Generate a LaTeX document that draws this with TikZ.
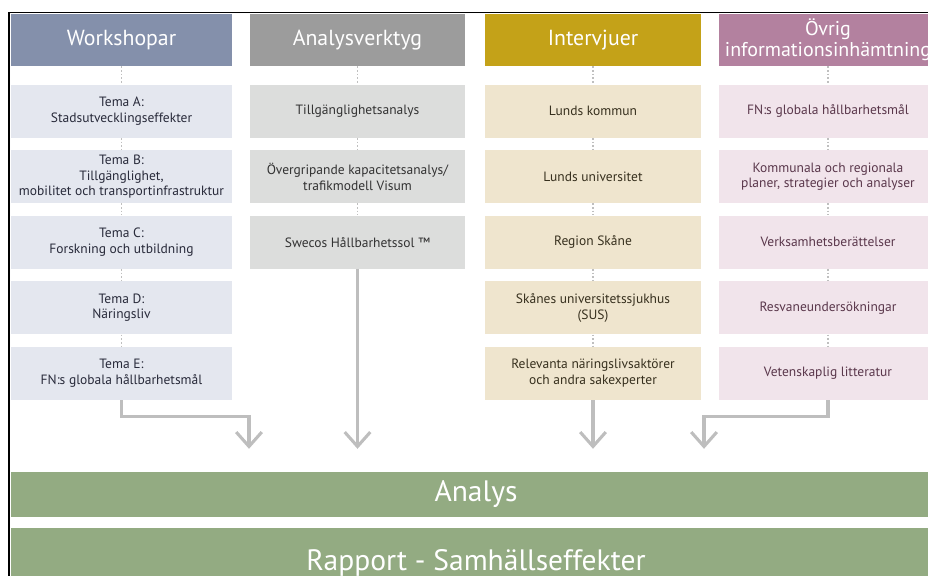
\documentclass[tikz,border=0pt]{standalone}
\usepackage{fontspec}
\setmainfont{PT Sans}
\usetikzlibrary{positioning}
\usetikzlibrary{arrows.meta}

\definecolor{wshead}{RGB}{132,144,171}
\definecolor{wsfill}{RGB}{228,231,239}
\definecolor{wstext}{RGB}{40,42,58}
\definecolor{avhead}{RGB}{156,156,156}
\definecolor{avfill}{RGB}{220,221,220}
\definecolor{avtext}{RGB}{50,50,50}
\definecolor{ivhead}{RGB}{196,162,24}
\definecolor{ivfill}{RGB}{239,229,206}
\definecolor{ivtext}{RGB}{55,48,30}
\definecolor{ovhead}{RGB}{179,129,159}
\definecolor{ovfill}{RGB}{241,228,235}
\definecolor{ovtext}{RGB}{90,55,75}
\definecolor{bargreen}{RGB}{147,171,130}
\definecolor{arrowgray}{RGB}{190,190,190}

\tikzset{
    node distance=0.3cm,
    headcell/.style={
        minimum height=1.3cm,
        inner sep=0pt,
        align=center,
        text=white,
        font=\fontsize{15.5}{18}\selectfont
    },
    cell/.style={
        minimum height=1.325cm,
        inner sep=0pt,
        align=center,
        font=\fontsize{9.6}{11.2}\selectfont
    },
    wscell/.style={cell, fill=wsfill, text=wstext, minimum width=5.525cm},
    avcell/.style={cell, fill=avfill, text=avtext, minimum width=5.375cm},
    ivcell/.style={cell, fill=ivfill, text=ivtext, minimum width=5.4cm},
    ovcell/.style={cell, fill=ovfill, text=ovtext, minimum width=5.45cm},
    linkdots/.style={
        draw=gray!50,
        line width=1.2pt,
        dash pattern=on 1.2pt off 1.4pt
    },
    flow/.style={
        draw=arrowgray,
        line width=2.2pt,
        -{Straight Barb[length=0.36cm,width=0.64cm]}
    },
    bar/.style={
        fill=bargreen,
        text=white,
        inner sep=0pt,
        minimum width=23.25cm,
        font=\fontsize{21}{24}\selectfont
    }
}

\begin{document}
\begin{tikzpicture}
    \useasboundingbox (0,0) rectangle (23.2,-14.4);

    % column headers
    \node[headcell, fill=wshead, minimum width=5.525cm] (ws) at (3.0375,-1.0) {Workshopar};
    \node[headcell, fill=avhead, minimum width=5.375cm] (av) at (8.9375,-1.0) {Analysverktyg};
    \node[headcell, fill=ivhead, minimum width=5.4cm] (iv) at (14.825,-1.0) {Intervjuer};
    \node[headcell, fill=ovhead, minimum width=5.45cm, font=\fontsize{14.2}{17}\selectfont] (ov) at (20.7,-1.0) {Övrig\\[-2pt]informationsinhämtning};

    % Workshopar
    \node[wscell, below=0.45cm of ws] (ws1) {Tema A:\\Stadsutvecklingseffekter};
    \node[wscell, below=of ws1] (ws2) {Tema B:\\Tillgänglighet,\\mobilitet och transportinfrastruktur};
    \node[wscell, below=of ws2] (ws3) {Tema C:\\Forskning och utbildning};
    \node[wscell, below=of ws3] (ws4) {Tema D:\\Näringsliv};
    \node[wscell, below=of ws4] (ws5) {Tema E:\\FN:s globala hållbarhetsmål};

    % Analysverktyg
    \node[avcell, below=0.45cm of av] (av1) {Tillgänglighetsanalys};
    \node[avcell, below=of av1] (av2) {Övergripande kapacitetsanalys/\\trafikmodell Visum};
    \node[avcell, below=of av2] (av3) {Swecos Hållbarhetssol ™};

    % Intervjuer
    \node[ivcell, below=0.45cm of iv] (iv1) {Lunds kommun};
    \node[ivcell, below=of iv1] (iv2) {Lunds universitet};
    \node[ivcell, below=of iv2] (iv3) {Region Skåne};
    \node[ivcell, below=of iv3] (iv4) {Skånes universitetssjukhus\\(SUS)};
    \node[ivcell, below=of iv4] (iv5) {Relevanta näringslivsaktörer\\och andra sakexperter};

    % Övrig informationsinhämtning
    \node[ovcell, below=0.45cm of ov] (ov1) {FN:s globala hållbarhetsmål};
    \node[ovcell, below=of ov1] (ov2) {Kommunala och regionala\\planer, strategier och analyser};
    \node[ovcell, below=of ov2] (ov3) {Verksamhetsberättelser};
    \node[ovcell, below=of ov3] (ov4) {Resvaneundersökningar};
    \node[ovcell, below=of ov4] (ov5) {Vetenskaplig litteratur};

    % dotted links
    \draw (ws) edge[linkdots] (ws1) (ws1) edge[linkdots] (ws2) (ws2) edge[linkdots] (ws3)
          (ws3) edge[linkdots] (ws4) (ws4) edge[linkdots] (ws5);
    \draw (av) edge[linkdots] (av1) (av1) edge[linkdots] (av2) (av2) edge[linkdots] (av3);
    \draw (iv) edge[linkdots] (iv1) (iv1) edge[linkdots] (iv2) (iv2) edge[linkdots] (iv3)
          (iv3) edge[linkdots] (iv4) (iv4) edge[linkdots] (iv5);
    \draw (ov) edge[linkdots] (ov1) (ov1) edge[linkdots] (ov2) (ov2) edge[linkdots] (ov3)
          (ov3) edge[linkdots] (ov4) (ov4) edge[linkdots] (ov5);

    % bottom bars
    \node[bar, minimum height=1.125cm] (analys) at (11.9,-12.3625) {Analys};
    \node[bar, minimum height=1.75cm] (rapport) at (11.9,-14.075) {Rapport - Samhällseffekter};

    % arrows into the analysis
    \coordinate (in1) at (6.225,-11.22);
    \coordinate (in2) at (8.9375,-11.22);
    \coordinate (in3) at (14.825,-11.22);
    \coordinate (in4) at (17.6,-11.22);
    \draw[flow] (ws5.south) -- ++(0,-0.4) -| (in1);
    \draw[flow] (av3.south) -- (in2);
    \draw[flow] (iv5.south) -- (in3);
    \draw[flow] (ov5.south) -- ++(0,-0.4) -| (in4);

    % frame
    \draw[line width=0.9pt] (0.225,-14.6) |- (23.4,-0.3125);
\end{tikzpicture}
\end{document}
